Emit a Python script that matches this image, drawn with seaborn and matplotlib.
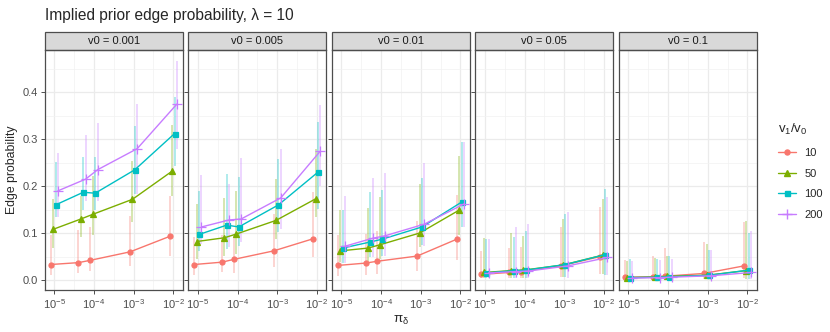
import numpy as np
import pandas as pd
import matplotlib
matplotlib.use("Agg")
import matplotlib.pyplot as plt
import seaborn as sns
from matplotlib.lines import Line2D
from matplotlib.patches import Rectangle
from matplotlib.ticker import FixedLocator, FixedFormatter, NullFormatter

# dados
pi_delta = [1e-5, 5e-5, 1e-4, 1e-3, 1e-2]
ratios = [10, 50, 100, 200]
v0_labels = ["0.001", "0.005", "0.01", "0.05", "0.1"]

# v0 = 0.001 (linhas: v1/v0 = 10, 50, 100, 200)
est_0001 = [[0.033, 0.037, 0.042, 0.060, 0.093],
            [0.108, 0.130, 0.140, 0.172, 0.232],
            [0.160, 0.187, 0.185, 0.235, 0.312],
            [0.190, 0.215, 0.235, 0.280, 0.375]]
lo_0001 = [[0.011, 0.015, 0.019, 0.030, 0.051],
           [0.068, 0.091, 0.096, 0.123, 0.178],
           [0.134, 0.150, 0.150, 0.183, 0.243],
           [0.134, 0.168, 0.168, 0.183, 0.280]]
hi_0001 = [[0.096, 0.106, 0.113, 0.136, 0.179],
           [0.172, 0.180, 0.221, 0.253, 0.330],
           [0.251, 0.262, 0.262, 0.328, 0.390],
           [0.270, 0.310, 0.334, 0.375, 0.466]]

# v0 = 0.005
est_0005 = [[0.033, 0.038, 0.044, 0.062, 0.088],
            [0.082, 0.090, 0.098, 0.127, 0.173],
            [0.097, 0.117, 0.113, 0.160, 0.230],
            [0.113, 0.128, 0.130, 0.175, 0.275]]
lo_0005 = [[0.011, 0.017, 0.015, 0.028, 0.049],
           [0.045, 0.051, 0.055, 0.087, 0.134],
           [0.062, 0.066, 0.072, 0.102, 0.151],
           [0.077, 0.070, 0.081, 0.109, 0.200]]
hi_0005 = [[0.091, 0.096, 0.096, 0.140, 0.187],
           [0.162, 0.174, 0.189, 0.215, 0.279],
           [0.189, 0.226, 0.219, 0.257, 0.336],
           [0.223, 0.204, 0.260, 0.279, 0.372]]

# v0 = 0.01
est_001 = [[0.031, 0.036, 0.040, 0.051, 0.087],
           [0.062, 0.068, 0.075, 0.100, 0.149],
           [0.068, 0.081, 0.087, 0.113, 0.166],
           [0.072, 0.089, 0.094, 0.119, 0.162]]
lo_001 = [[0.009, 0.011, 0.013, 0.019, 0.043],
          [0.038, 0.040, 0.045, 0.070, 0.096],
          [0.036, 0.049, 0.051, 0.074, 0.113],
          [0.036, 0.049, 0.051, 0.072, 0.113]]
hi_001 = [[0.096, 0.098, 0.104, 0.126, 0.181],
          [0.149, 0.153, 0.177, 0.204, 0.264],
          [0.149, 0.187, 0.191, 0.217, 0.294],
          [0.179, 0.217, 0.228, 0.249, 0.294]]

# v0 = 0.05
est_005 = [[0.012, 0.016, 0.018, 0.030, 0.050],
           [0.016, 0.020, 0.021, 0.032, 0.053],
           [0.015, 0.020, 0.021, 0.033, 0.054],
           [0.015, 0.018, 0.019, 0.030, 0.048]]
lo_005 = [[0.005, 0.004, 0.004, 0.006, 0.012],
          [0.004, 0.004, 0.004, 0.006, 0.012],
          [0.004, 0.004, 0.004, 0.006, 0.010],
          [0.004, 0.004, 0.004, 0.005, 0.010]]
hi_005 = [[0.062, 0.068, 0.070, 0.113, 0.155],
          [0.089, 0.100, 0.094, 0.130, 0.172],
          [0.087, 0.092, 0.104, 0.140, 0.194],
          [0.087, 0.113, 0.119, 0.144, 0.177]]

# v0 = 0.1
est_01 = [[0.006, 0.007, 0.008, 0.014, 0.030],
          [0.005, 0.006, 0.008, 0.010, 0.020],
          [0.005, 0.006, 0.007, 0.010, 0.021],
          [0.004, 0.005, 0.006, 0.009, 0.016]]
lo_01 = [[0.001, 0.001, 0.001, 0.002, 0.004],
         [0.001, 0.001, 0.001, 0.002, 0.003],
         [0.001, 0.001, 0.001, 0.002, 0.003],
         [0.001, 0.001, 0.001, 0.001, 0.002]]
hi_01 = [[0.043, 0.051, 0.068, 0.081, 0.123],
         [0.040, 0.047, 0.051, 0.077, 0.126],
         [0.045, 0.045, 0.051, 0.064, 0.100],
         [0.040, 0.043, 0.045, 0.064, 0.104]]

all_est = [est_0001, est_0005, est_001, est_005, est_01]
all_lo = [lo_0001, lo_0005, lo_001, lo_005, lo_01]
all_hi = [hi_0001, hi_0005, hi_001, hi_005, hi_01]

rows = []
for v0, est, lo, hi in zip(v0_labels, all_est, all_lo, all_hi):
    for i, r in enumerate(ratios):
        for j, x in enumerate(pi_delta):
            rows.append(dict(v0=v0, ratio=r, pi=x,
                             est=est[i][j], lo=lo[i][j], hi=hi[i][j]))
df = pd.DataFrame(rows)

# deslocamento horizontal (em decadas) para separar as series
dodge = {10: -0.09, 50: -0.03, 100: 0.03, 200: 0.09}
df["x"] = df["pi"] * 10 ** df["ratio"].map(dodge)

colors = ["#F8766D", "#7CAE00", "#00BFC4", "#C77CFF"]
palette = dict(zip(ratios, colors))
markers = dict(zip(ratios, ["o", "^", "s", "+"]))
msizes = dict(zip(ratios, [3.6, 4.2, 3.6, 6.5]))

sns.set_style("white")
plt.rcParams["font.family"] = ["Liberation Sans", "DejaVu Sans"]
plt.rcParams["mathtext.fontset"] = "custom"
plt.rcParams["mathtext.rm"] = "Liberation Sans"
plt.rcParams["mathtext.it"] = "Liberation Sans"
plt.rcParams["mathtext.default"] = "regular"

fig, axes = plt.subplots(1, 5, figsize=(8.3, 3.32), dpi=100, sharey=True)
fig.subplots_adjust(left=0.054, right=0.912, bottom=0.127, top=0.849, wspace=0.04)

for ax, v0 in zip(axes, v0_labels):
    sub = df[df["v0"] == v0]
    for r in ratios:
        s = sub[sub["ratio"] == r]
        ax.vlines(s["x"], s["lo"], s["hi"], color=palette[r], alpha=0.4,
                  lw=1.1, zorder=2)
    for r in ratios:
        s = sub[sub["ratio"] == r]
        sns.lineplot(data=s, x="x", y="est", color=palette[r],
                     marker=markers[r], markersize=msizes[r],
                     markeredgecolor=palette[r], markeredgewidth=0.9,
                     errorbar=None, lw=1.0, ax=ax, zorder=3)

    ax.set_xscale("log")
    ax.set_xlim(10 ** -5.24, 10 ** -1.76)
    ax.set_ylim(-0.021, 0.49)
    ax.xaxis.set_major_locator(FixedLocator([1e-5, 1e-4, 1e-3, 1e-2]))
    ax.xaxis.set_major_formatter(FixedFormatter(
        ["$10^{-5}$", "$10^{-4}$", "$10^{-3}$", "$10^{-2}$"]))
    ax.xaxis.set_minor_locator(FixedLocator([10 ** -4.5, 10 ** -3.5, 10 ** -2.5]))
    ax.xaxis.set_minor_formatter(NullFormatter())
    ax.yaxis.set_major_locator(FixedLocator([0.0, 0.1, 0.2, 0.3, 0.4]))
    ax.yaxis.set_minor_locator(FixedLocator([0.05, 0.15, 0.25, 0.35, 0.45]))
    ax.yaxis.set_major_formatter(FixedFormatter(["0.0", "0.1", "0.2", "0.3", "0.4"]))
    ax.grid(which="major", color="#EBEBEB", lw=0.9, zorder=0)
    ax.grid(which="minor", color="#F2F2F2", lw=0.5, zorder=0)
    ax.set_axisbelow(True)
    ax.tick_params(which="major", length=3, width=0.6, color="#333333",
                   labelsize=8, labelcolor="#4D4D4D", pad=2,
                   bottom=True, left=True)
    ax.tick_params(which="minor", length=0)
    for sp in ax.spines.values():
        sp.set_color("#4D4D4D")
        sp.set_linewidth(0.9)
    ax.set_xlabel("")
    ax.set_ylabel("")

    # faixa do facet
    ax.add_patch(Rectangle((0, 1), 1, 0.075, transform=ax.transAxes,
                           facecolor="#D9D9D9", edgecolor="#4D4D4D", lw=0.9,
                           clip_on=False))
    ax.text(0.5, 1.0375, "v0 = " + v0, transform=ax.transAxes,
            ha="center", va="center", size=8, color="#1A1A1A")

axes[0].set_ylabel("Edge probability", size=8.8, labelpad=3)
fig.text(0.054, 0.953, "Implied prior edge probability, \u03bb = 10",
         size=11.2, ha="left", va="center")
fig.text(0.483, 0.035, r"$\pi_\delta$", size=9.5, ha="center", va="center")

handles = [Line2D([], [], color=c, marker=markers[r], lw=1.0,
                  markersize=msizes[r], markeredgecolor=c)
           for r, c in zip(ratios, colors)]
leg = fig.legend(handles, [str(r) for r in ratios], title=r"$v_1/v_0$",
                 loc="center left", bbox_to_anchor=(0.925, 0.485),
                 frameon=False, fontsize=8, title_fontsize=9.5,
                 handlelength=1.6, labelspacing=0.95, alignment="left")

fig.savefig("out.png", dpi=100)
